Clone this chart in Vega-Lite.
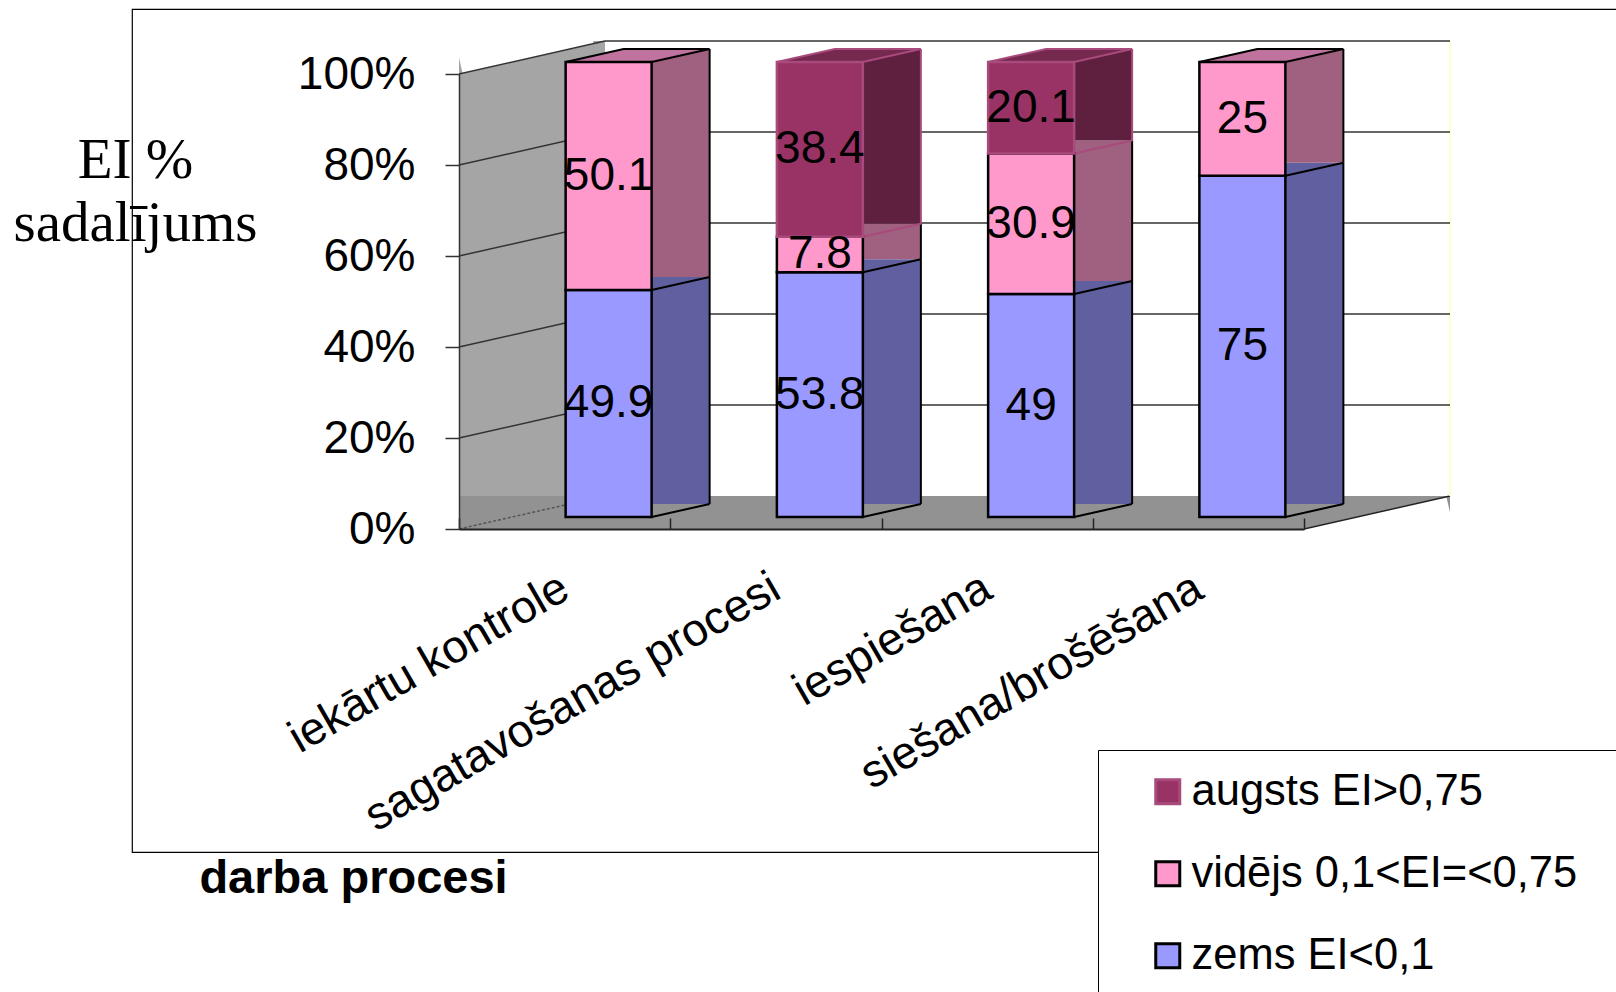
{
  "$schema": "https://vega.github.io/schema/vega-lite/v6.json",
  "width": 1490,
  "height": 843,
  "autosize": {"type": "none"},
  "padding": {"left": 132, "top": 9, "right": -6, "bottom": 140},
  "background": "white",
  "config": {
    "view": {"stroke": "black", "strokeWidth": 1.2},
    "font": "Liberation Sans",
    "axis": {"labelColor": "black", "titleColor": "black"}
  },
  "datasets": {
    "bars": [
      {"proc": "iekārtu kontrole", "level": "zems EI<0,1", "v": 49.9},
      {"proc": "iekārtu kontrole", "level": "vidējs 0,1<EI=<0,75", "v": 50.1},
      {"proc": "sagatavošanas procesi", "level": "zems EI<0,1", "v": 53.8},
      {"proc": "sagatavošanas procesi", "level": "vidējs 0,1<EI=<0,75", "v": 7.8},
      {"proc": "sagatavošanas procesi", "level": "augsts EI>0,75", "v": 38.4},
      {"proc": "iespiešana", "level": "zems EI<0,1", "v": 49},
      {"proc": "iespiešana", "level": "vidējs 0,1<EI=<0,75", "v": 30.9},
      {"proc": "iespiešana", "level": "augsts EI>0,75", "v": 20.1},
      {"proc": "siešana/brošēšana", "level": "zems EI<0,1", "v": 75},
      {"proc": "siešana/brošēšana", "level": "vidējs 0,1<EI=<0,75", "v": 25}
    ],
    "grid": [{"g": 20}, {"g": 40}, {"g": 60}, {"g": 80}, {"g": 100}]
  },
  "layer": [
    {
      "data": {"values": [{}]},
      "mark": {"type": "rect", "fill": "#a5a5a5", "x2Offset": 146, "yOffset": -33, "opacity": 1},
      "encoding": {
        "x": {"datum": "iekārtu kontrole", "type": "nominal", "bandPosition": 0},
        "x2": {"datum": "iekārtu kontrole", "bandPosition": 0},
        "y": {"datum": 100, "type": "quantitative"},
        "y2": {"datum": 0}
      }
    },
    {
      "data": {"values": [{}]},
      "mark": {"type": "rule", "stroke": "white", "strokeWidth": 33, "x2Offset": 131, "yOffset": -16.5, "y2Offset": -46.1},
      "encoding": {
        "x": {"datum": "iekārtu kontrole", "type": "nominal", "bandPosition": 0},
        "x2": {"datum": "iekārtu kontrole", "bandPosition": 0},
        "y": {"datum": 100, "type": "quantitative"},
        "y2": {"datum": 100}
      }
    },
    {
      "data": {"values": [{}]},
      "mark": {"type": "rect", "fill": "#929292", "x2Offset": 146, "yOffset": -33, "opacity": 1},
      "encoding": {
        "x": {"datum": "iekārtu kontrole", "type": "nominal", "bandPosition": 0},
        "x2": {"datum": "siešana/brošēšana", "bandPosition": 1},
        "y": {"datum": 0, "type": "quantitative"},
        "y2": {"datum": 0}
      }
    },
    {
      "data": {"values": [{}]},
      "mark": {"type": "rule", "stroke": "white", "strokeWidth": 33, "x2Offset": 146, "yOffset": 16.5, "y2Offset": -16.5},
      "encoding": {
        "x": {"datum": "siešana/brošēšana", "type": "nominal", "bandPosition": 1},
        "x2": {"datum": "siešana/brošēšana", "bandPosition": 1},
        "y": {"datum": 0, "type": "quantitative"},
        "y2": {"datum": 0}
      }
    },
    {
      "data": {"values": [{}]},
      "mark": {"type": "rule", "stroke": "#222222", "strokeWidth": 1.5, "x2Offset": 146, "y2Offset": -33},
      "encoding": {
        "x": {"datum": "siešana/brošēšana", "type": "nominal", "bandPosition": 1},
        "x2": {"datum": "siešana/brošēšana", "bandPosition": 1},
        "y": {"datum": 0, "type": "quantitative"},
        "y2": {"datum": 0}
      }
    },
    {
      "data": {"values": [{}]},
      "mark": {"type": "rule", "stroke": "#555555", "strokeWidth": 1.5, "strokeDash": [3, 2], "x2Offset": 146, "y2Offset": -33},
      "encoding": {
        "x": {"datum": "iekārtu kontrole", "type": "nominal", "bandPosition": 0},
        "x2": {"datum": "iekārtu kontrole", "bandPosition": 0},
        "y": {"datum": 0, "type": "quantitative"},
        "y2": {"datum": 0}
      }
    },
    {
      "data": {"values": [{}]},
      "mark": {"type": "rule", "stroke": "#ffffcc", "strokeWidth": 2, "xOffset": 146, "yOffset": -33, "y2Offset": -33},
      "encoding": {
        "x": {"datum": "siešana/brošēšana", "type": "nominal", "bandPosition": 1},
        "y": {"datum": 100, "type": "quantitative"},
        "y2": {"datum": 0}
      }
    },
    {
      "data": {"name": "grid"},
      "mark": {"type": "rule", "stroke": "#333333", "strokeWidth": 1.5, "xOffset": 146, "x2Offset": 146, "yOffset": -33},
      "encoding": {
        "x": {"datum": "iekārtu kontrole", "type": "nominal", "bandPosition": 0},
        "x2": {"datum": "siešana/brošēšana", "bandPosition": 1},
        "y": {"field": "g", "type": "quantitative"}
      }
    },
    {
      "data": {"name": "grid"},
      "mark": {"type": "rule", "stroke": "#333333", "strokeWidth": 1.5, "x2Offset": 146, "y2Offset": -33},
      "encoding": {
        "x": {"datum": "iekārtu kontrole", "type": "nominal", "bandPosition": 0},
        "x2": {"datum": "iekārtu kontrole", "bandPosition": 0},
        "y": {"field": "g", "type": "quantitative"},
        "y2": {"field": "g"}
      }
    },
    {
      "data": {"name": "bars"},
      "transform": [{"stack": "v", "groupby": ["proc"], "sort": [{"field": "level", "order": "descending"}], "as": ["v0", "v1"]}],
      "mark": {"type": "bar", "width": {"band": 0.407}, "xOffset": 102, "yOffset": -25, "y2Offset": -25, "strokeWidth": 0, "opacity": 1},
      "encoding": {
        "x": {"field": "proc", "type": "nominal"},
        "y": {"field": "v0", "type": "quantitative"},
        "y2": {"field": "v1"},
        "fill": {"field": "level", "type": "nominal", "legend": null,
          "scale": {"domain": ["augsts EI>0,75", "vidējs 0,1<EI=<0,75", "zems EI<0,1"], "range": ["#5f1f3f", "#a0607f", "#6060a0"]}}
      }
    },
    {
      "data": {"name": "bars"},
      "transform": [{"stack": "v", "groupby": ["proc"], "sort": [{"field": "level", "order": "descending"}], "as": ["v0", "v1"]}],
      "mark": {"type": "rule", "strokeWidth": 2, "xOffset": 145, "yOffset": -25, "y2Offset": -25},
      "encoding": {
        "x": {"field": "proc", "type": "nominal", "bandPosition": 0.5},
        "y": {"field": "v0", "type": "quantitative"},
        "y2": {"field": "v1"},
        "stroke": {"field": "level", "type": "nominal"}
      }
    },
    {
      "data": {"name": "bars"},
      "transform": [{"stack": "v", "groupby": ["proc"], "sort": [{"field": "level", "order": "descending"}], "as": ["v0", "v1"]}],
      "mark": {"type": "rule", "strokeWidth": 2, "xOffset": 87, "x2Offset": 145, "yOffset": -12, "y2Offset": -25},
      "encoding": {
        "x": {"field": "proc", "type": "nominal", "bandPosition": 0.5},
        "x2": {"field": "proc", "bandPosition": 0.5},
        "y": {"field": "v0", "type": "quantitative"},
        "y2": {"field": "v0"},
        "stroke": {"field": "level", "type": "nominal"}
      }
    },
    {
      "data": {"name": "bars"},
      "transform": [
        {"stack": "v", "groupby": ["proc"], "sort": [{"field": "level", "order": "descending"}], "as": ["v0", "v1"]},
        {"filter": "datum.v1 > 99.9"}
      ],
      "mark": {"type": "point", "shape": "M0,0L86,0L144,-13L58,-13Z", "size": 4, "filled": true, "opacity": 1, "strokeWidth": 2, "xOffset": 1, "yOffset": -12},
      "encoding": {
        "x": {"field": "proc", "type": "nominal"},
        "y": {"field": "v1", "type": "quantitative"},
        "fill": {"field": "level", "type": "nominal", "legend": null,
          "scale": {"domain": ["augsts EI>0,75", "vidējs 0,1<EI=<0,75", "zems EI<0,1"], "range": ["#76294f", "#c0739e", "#7f7fd0"]}},
        "stroke": {"field": "level", "type": "nominal"}
      }
    },
    {
      "data": {"name": "bars"},
      "transform": [{"stack": "v", "groupby": ["proc"], "sort": [{"field": "level", "order": "descending"}], "as": ["v0", "v1"]}],
      "mark": {"type": "bar", "width": {"band": 0.407}, "xOffset": 44, "yOffset": -12, "y2Offset": -12, "strokeWidth": 2.5, "opacity": 1},
      "encoding": {
        "x": {
          "field": "proc", "type": "nominal",
          "scale": {"domain": ["iekārtu kontrole", "sagatavošanas procesi", "iespiešana", "siešana/brošēšana"], "range": [327, 1172], "paddingInner": 0, "paddingOuter": 0},
          "axis": {
            "orient": "bottom", "offset": -323, "zindex": 1,
            "domainColor": "#222222", "domainWidth": 2,
            "tickBand": "extent", "tickSize": -11, "tickColor": "#222222", "tickWidth": 1.5,
            "labelAngle": -30, "labelFont": "Liberation Sans", "labelFontSize": 46, "labelPadding": 66, "labelLimit": 0, "labelOverlap": false,
            "title": "darba procesi", "titleFont": "Liberation Sans", "titleFontSize": 47, "titleFontWeight": "bold",
            "titleX": 221, "titleY": 363, "titleAlign": "center", "titleBaseline": "alphabetic", "titleAngle": 0
          }
        },
        "y": {
          "field": "v0", "type": "quantitative",
          "scale": {"domain": [0, 100], "range": [520, 65], "nice": false, "zero": true},
          "axis": {
            "orient": "left", "offset": -327, "zindex": 1,
            "values": [0, 20, 40, 60, 80, 100], "labelExpr": "datum.value + '%'",
            "labelFont": "Liberation Sans", "labelFontSize": 46, "labelPadding": 30,
            "tickSize": 14, "tickColor": "#333333", "tickWidth": 1.5,
            "domainColor": "#333333", "domainWidth": 1.5, "grid": false,
            "title": ["EI %", "sadalījums"], "titleFont": "Liberation Serif", "titleFontSize": 57, "titleFontWeight": "normal",
            "titleAngle": 0, "titleAlign": "center", "titleBaseline": "alphabetic", "titleX": -324, "titleY": 168, "titleLineHeight": 63, "titleLimit": 1000
          }
        },
        "y2": {"field": "v1"},
        "color": {
          "field": "level", "type": "nominal",
          "scale": {"domain": ["augsts EI>0,75", "vidējs 0,1<EI=<0,75", "zems EI<0,1"], "range": ["#993366", "#ff99cc", "#9999ff"]},
          "legend": {
            "orient": "none", "legendX": 966, "legendY": 741, "direction": "vertical",
            "title": "\u00a0", "titleOrient": "right", "titlePadding": 60, "titleFontSize": 20,
            "strokeColor": "black", "fillColor": "white", "padding": 20,
            "symbolType": "square", "symbolSize": 576, "symbolStrokeWidth": 3, "symbolOffset": 28, "labelOffset": 2,
            "labelFont": "Liberation Sans", "labelFontSize": 43.5, "labelColor": "black", "labelLimit": 0,
            "rowPadding": 37, "zindex": 2
          }
        },
        "stroke": {
          "field": "level", "type": "nominal",
          "scale": {"domain": ["augsts EI>0,75", "vidējs 0,1<EI=<0,75", "zems EI<0,1"], "range": ["#a84a7c", "#000000", "#000000"]},
          "legend": {
            "orient": "none", "legendX": 966, "legendY": 741, "direction": "vertical",
            "title": "\u00a0", "titleOrient": "right", "titlePadding": 60, "titleFontSize": 20,
            "strokeColor": "black", "fillColor": "white", "padding": 20,
            "symbolType": "square", "symbolSize": 576, "symbolStrokeWidth": 3, "symbolOffset": 28, "labelOffset": 2,
            "labelFont": "Liberation Sans", "labelFontSize": 43.5, "labelColor": "black", "labelLimit": 0,
            "rowPadding": 37, "zindex": 2
          }
        }
      }
    },
    {
      "data": {"name": "bars"},
      "mark": {"type": "text", "xOffset": 44, "yOffset": -12, "fontSize": 46, "font": "Liberation Sans", "fill": "black", "baseline": "middle", "align": "center"},
      "encoding": {
        "x": {"field": "proc", "type": "nominal"},
        "y": {"field": "v", "type": "quantitative", "stack": "zero", "bandPosition": 0.5},
        "detail": {"field": "level"},
        "order": {"field": "level", "sort": "descending"},
        "text": {"field": "v", "type": "quantitative"}
      }
    }
  ],
  "resolve": {"scale": {"fill": "independent"}}
}
